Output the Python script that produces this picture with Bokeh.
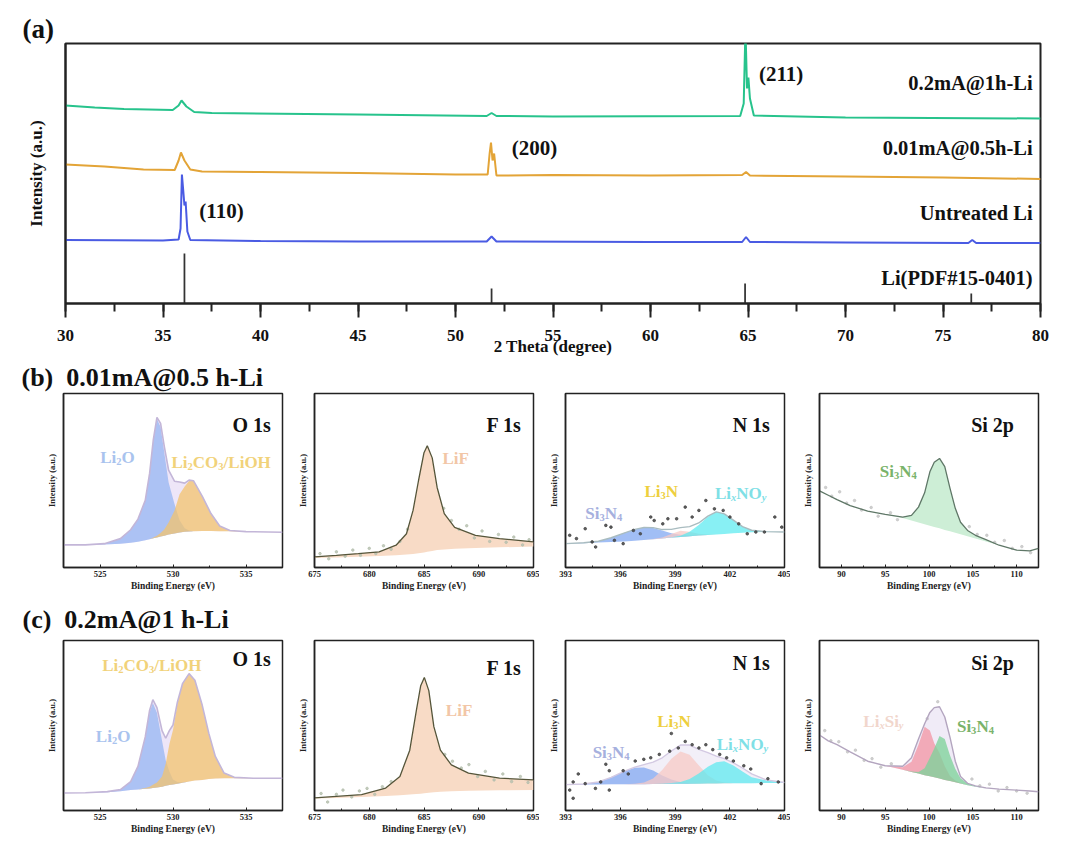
import numpy as np
from bokeh.plotting import figure
from bokeh.layouts import column, row
from bokeh.models import SingleIntervalTicker, FixedTicker, Range1d
from bokeh.core.properties import value
from bokeh.embed import file_html
from bokeh.resources import INLINE

SERIF = "Liberation Serif"

# ---------------- (a) XRD data (intensity in arbitrary offset units) ----------------
green_x = [30, 31.5, 33, 35.5, 35.8, 35.95, 36.2, 36.6, 37.5, 45, 51.6, 51.85, 52.1, 55,
           64.6, 64.78, 64.87, 64.95, 65.02, 65.1, 65.3, 70, 80]
green_y = [198, 196, 194.5, 193.5, 198, 203, 197, 191.5, 190.5, 189, 187.5, 190.5, 187.5, 187,
           187.5, 200, 275, 215, 226, 205, 188, 186, 185]
orange_x = [30, 32, 34, 35.6, 35.8, 35.92, 36.1, 36.4, 37, 40, 45, 50, 51.65, 51.75, 51.82,
            51.9, 51.98, 52.1, 55, 60, 64.7, 64.9, 65.1, 70, 75, 80]
orange_y = [139, 137, 134, 133.5, 143, 151, 143, 134, 132, 131.5, 130.5, 129, 129, 150, 161,
            143, 150, 128, 128.5, 128, 128.5, 131.5, 128, 127, 126, 124.5]
blue_x = [30, 35, 35.8, 35.9, 35.97, 36.03, 36.1, 36.16, 36.25, 36.4, 40, 45, 51.6, 51.85,
          52.1, 60, 64.7, 64.9, 65.1, 70, 76.3, 76.5, 76.7, 80]
blue_y = [63.5, 63, 64, 75, 129, 115, 98, 102, 72, 63.5, 62.5, 62, 62, 67, 62, 61.5, 61.5,
          66.5, 61.5, 61, 60.5, 63.5, 60.5, 60.5]
pdf_pos = [36.1, 51.85, 64.85, 76.45]
pdf_int = [50, 15, 20, 10]
series_names = ["0.2mA@1h-Li", "0.01mA@0.5h-Li", "Untreated Li", "Li(PDF#15-0401)"]
peak_names = ["(110)", "(200)", "(211)"]

# ---------------- (b)/(c) XPS data (normalised intensity) ----------------
o1s_b_x = [522.5, 524.0, 525.3, 526.4, 527.1, 527.6, 528.1, 528.4, 528.65, 528.9, 529.15, 529.4,
           529.7, 530.1, 530.45, 530.8, 531.1, 531.4, 532.0, 532.6, 533.2, 533.9, 535.0, 537.5]
o1s_b_bg = [13.0, 13.0, 13.2, 13.6, 14.2, 14.8, 15.6, 16.2, 16.8, 17.3, 17.8, 18.3, 18.9, 19.6,
            20.1, 20.5, 20.7, 20.9, 21.0, 21.0, 20.9, 20.8, 20.6, 20.3]
o1s_b_li2o = [0, 0, 0.5, 3, 7.5, 13, 23, 38, 56, 68, 63, 48, 30, 17, 7, 2, 0.5, 0, 0, 0, 0, 0, 0, 0]
o1s_b_co3 = [0, 0, 0, 0, 0, 0, 0, 0, 0.5, 1, 2, 3.5, 7, 13, 22, 26, 29, 29, 20, 10, 3, 0.5, 0, 0]

o1s_c_x = [522.5, 524.0, 525.5, 526.4, 527.1, 527.6, 528.1, 528.4, 528.62, 528.9, 529.25, 529.5,
           529.75, 530.0, 530.3, 530.65, 531.1, 531.5, 532.0, 532.45, 532.9, 533.5, 534.2, 535.5, 537.5]
o1s_c_bg = [10.3, 10.4, 10.8, 11.3, 12.0, 12.4, 12.8, 13.0, 13.2, 13.5, 14.0, 14.5, 15.0, 15.3,
            15.7, 16.3, 17.0, 17.6, 18.0, 18.5, 18.8, 19.0, 19.0, 19.0, 19.0]
o1s_c_li2o = [0, 0, 0.3, 1, 5, 13.5, 30, 45, 50, 44, 27, 15, 8, 3, 1, 0.3, 0, 0, 0, 0, 0, 0, 0, 0, 0]
o1s_c_co3 = [0, 0, 0, 0, 0, 0, 0.5, 1, 2, 3, 6, 13, 24, 32, 47, 58, 63.5, 59, 44, 27, 13, 3, 0.5, 0, 0]

f1s_b_x = [675, 677, 679, 680.9, 682.45, 683.4, 684.0, 684.5, 685.0, 685.3, 685.75, 686.2, 686.85,
           687.8, 689.7, 691.9, 695]
f1s_b_env = [6.1, 7.0, 8.0, 9.0, 12.8, 19.4, 32.8, 50, 66, 70, 63, 46, 31, 23, 18.5, 16.6, 14.7]
f1s_b_bg = [5.5, 5.8, 6.2, 6.6, 7.0, 7.4, 7.8, 8.2, 8.6, 9.0, 9.5, 10.0, 10.4, 10.8, 11.2, 11.6, 12.0]
f1s_b_dx = [675.5, 676.3, 677.0, 677.8, 678.5, 679.2, 680.0, 680.6, 681.3, 682.0, 682.8, 683.5,
            686.8, 687.5, 688.2, 688.9, 689.6, 690.3, 691.0, 691.8, 692.5, 693.2, 694.0, 694.6]
f1s_b_dy = [8, 5, 9, 6.5, 10, 7, 11, 8, 12.5, 10.5, 15, 22, 34, 27, 22, 24, 17, 21, 15, 19,
            14.5, 17.5, 13, 16]

f1s_c_x = [675, 677, 679.3, 681.5, 682.8, 683.7, 684.3, 684.7, 685.03, 685.44, 685.9, 686.5,
           687.5, 689.06, 691.9, 695]
f1s_c_env = [7.4, 8.3, 9.3, 13.2, 20, 35.5, 58.8, 73.4, 78.3, 70.5, 49.3, 35.5, 26.8, 22, 19, 18]
f1s_c_bg = [7.0, 7.4, 8.0, 8.6, 9.0, 9.4, 9.7, 9.9, 10.1, 10.4, 10.7, 11.0, 11.3, 11.6, 11.9, 12.1]
f1s_c_dx = [675.6, 676.2, 677.0, 677.6, 678.4, 679.1, 679.8, 680.5, 681.2, 682.0, 686.9, 687.6,
            688.4, 689.1, 689.9, 690.6, 691.4, 692.2, 693.0, 693.8, 694.5]
f1s_c_dy = [10, 5, 9.5, 12, 8, 11.5, 13, 9.5, 14, 17, 33, 29, 25, 27, 20, 23, 18, 21.5, 17, 20, 16.5]

n1s_x = [393, 394, 394.8, 395.5, 396.2, 396.8, 397.3, 397.8, 398.3, 398.8, 399.3, 399.8, 400.3,
         400.8, 401.26, 401.7, 402.2, 402.7, 403.2, 404, 405]
n1s_b_bg = [13.7, 14.0, 14.3, 14.6, 15.0, 15.4, 15.8, 16.2, 16.7, 17.2, 17.6, 18.0, 18.4, 18.7,
            19.0, 19.3, 19.7, 20.0, 20.2, 20.4, 20.4]
n1s_b_si3n4 = [0, 0.2, 0.8, 2.5, 4.8, 6.5, 7.2, 6.5, 4.5, 2.5, 1.2, 0.5, 0.2, 0, 0, 0, 0, 0, 0, 0, 0]
n1s_b_li3n = [0, 0, 0, 0, 0, 0, 0, 0.2, 0.6, 2.0, 3.5, 2.5, 1.0, 0.3, 0, 0, 0, 0, 0, 0, 0]
n1s_b_lixnoy = [0, 0, 0, 0, 0, 0, 0, 0, 0, 0.2, 0.6, 2.5, 6, 10.5, 13, 11.5, 7.5, 3.5, 1.2, 0.2, 0]
n1s_b_dx = [393.23, 393.6, 394.08, 394.46, 394.65, 395.21, 395.49, 395.68, 396.16, 396.72, 397.1,
            397.67, 397.86, 398.33, 398.61, 399.09, 399.56, 399.94, 400.31, 400.69, 401.16,
            401.64, 402.01, 402.49, 402.96, 403.43, 403.9, 404.47, 404.85]
n1s_b_dy = [18.5, 16.6, 22.3, 14.7, 11.8, 24.2, 23.2, 15.6, 13.7, 21.3, 19.4, 29, 27, 25.1, 28,
            28, 34.7, 29, 32.8, 38.5, 33.7, 32.8, 29, 25.1, 19.4, 20.4, 20.4, 29, 23.2]

n1s_c_bg = [15.2, 15.3, 15.3, 15.4, 15.4, 15.5, 15.5, 15.6, 15.6, 15.7, 15.7, 15.8, 15.8, 15.9,
            15.9, 16.0, 16.0, 16.1, 16.1, 16.2, 16.2]
n1s_c_si3n4 = [0, 0.3, 1.5, 4, 7.5, 9.6, 9.8, 8, 5, 2.5, 1, 0.3, 0, 0, 0, 0, 0, 0, 0, 0, 0]
n1s_c_li3n = [0, 0, 0, 0, 0, 0.2, 0.9, 3.2, 8.2, 14.8, 19, 17, 10.8, 4.9, 1.7, 0.5, 0.1, 0, 0, 0, 0]
n1s_c_lixnoy = [0, 0, 0, 0, 0, 0, 0, 0, 0.2, 0.5, 1, 2.8, 6, 9.8, 12.5, 12.9, 10.5, 6.8, 3.4, 1.5, 0.3]
n1s_c_env = [15.2, 15.6, 16.8, 19.5, 23, 25.5, 27, 28.5, 31, 35, 38.5, 38.5, 36, 34, 32, 30.5,
             28, 25, 21.5, 18, 16.5]
n1s_c_dx = [393.23, 393.42, 393.7, 394.08, 394.64, 394.93, 395.4, 395.21, 396.16, 396.44, 396.82,
            397.29, 397.67, 398.14, 398.71, 398.8, 399.18, 399.56, 399.94, 400.31, 400.69, 401.07,
            401.45, 401.83, 402.2, 402.77, 403.15, 403.72, 404.09, 404.66, 393.42, 395.4]
n1s_c_dy = [12, 16.8, 21.5, 15.8, 13, 16.8, 12, 27.2, 23.4, 21.5, 29.1, 30.1, 31, 33, 34.9, 45.3,
            36.8, 40.6, 38.7, 36.8, 38.7, 35.8, 33, 31, 29.1, 26.3, 24.4, 15.8, 18.7, 16.8, 7.2, 23.4]

si2p_x = [87.5, 88.5, 89.5, 91, 93, 95, 97, 98, 98.8, 99.5, 100.1, 100.6, 101.2, 101.8, 102.4,
          103, 103.6, 104.4, 105.3, 106.5, 108, 110, 111.5, 112.5]
si2p_b_bg = [44, 41.5, 39, 35.6, 32.4, 30.5, 28.4, 27, 25.9, 24.9, 24, 23.3, 22.5, 21.6, 20.8,
             19.9, 19.1, 18, 16.7, 15, 12.8, 10, 9.6, 11]
si2p_b_si3n4 = [0, 0, 0, 0, 0, 0, 0.6, 3, 8.8, 18, 31, 37.2, 40.2, 36.4, 24.7, 14.1, 6.9, 3.3,
                1.8, 1.0, 0, 0, 0, 0]
si2p_b_dx = [88.2, 88.9, 89.8, 90.6, 91.5, 92.3, 93.4, 94.2, 95.6, 96.4, 104.6, 105.5, 106.6,
             107.5, 108.6, 109.5, 110.6, 111.6]
si2p_b_dy = [46, 41, 43.5, 37, 38.5, 33, 34.5, 29.5, 31.5, 27.5, 23.5, 19, 18.5, 14.5, 15.5, 11,
             12, 8.5]
si2p_c_bg = [44.4, 41, 38.7, 34.5, 29, 26.3, 23.9, 22.7, 21.7, 20.8, 20.1, 19.5, 18.8, 18, 17.3,
             16.6, 15.9, 14.9, 14, 13, 12.5, 12, 11.5, 11]
si2p_c_env = [44.4, 41, 38.7, 34.5, 29, 26.3, 26, 31, 42, 51, 57.7, 60.5, 61, 55, 43, 29, 20, 16,
              14.5, 13.3, 12.6, 12, 11.5, 11]
si2p_c_lixsiy = [0, 0, 0, 0, 0, 0, 1.5, 6, 17, 28.5, 27, 20, 15, 8, 3, 1, 0.3, 0, 0, 0, 0, 0, 0, 0]
si2p_c_si3n4 = [0, 0, 0, 0, 0, 0, 0, 0.3, 1, 4, 11, 17, 25, 24, 15, 8, 3, 1, 0.3, 0, 0, 0, 0, 0]
si2p_c_dx = [88.1, 88.8, 89.7, 90.7, 91.6, 92.6, 93.5, 94.5, 95.7, 104.9, 105.8, 106.9, 107.9,
             108.9, 110.0, 111.2, 101.0, 99.8]
si2p_c_dy = [47, 41, 40.5, 34.5, 35.5, 29.5, 30.5, 25.5, 27.5, 18.5, 14.5, 15.5, 11.5, 13.5,
             11.5, 10.2, 64, 54]

# ---------------- helpers ----------------
CW = {'L': .667, 'i': .278, 'O': .778, 'C': .722, '/': .278, 'H': .778, 'F': .611, 'S': .556,
      'N': .722, 'x': .5, 'y': .444}


def tw(t, fs):
    return sum(CW.get(c, .5) for c in t) * fs


def rich(p, x, y, parts, color, size=17):
    sub = 0.62
    total = sum(tw(t, size * sub if s else size) for t, s in parts)
    off = -total / 2.0
    for t, s in parts:
        fs = size * sub if s else size
        ital = s and t in ("x", "y")
        p.text(x=[x], y=[y], text=[t], x_offset=off,
               y_offset=0.36 * size + (0.24 * size if s else 0),
               text_font=value(SERIF), text_font_style="bold italic" if ital else "bold",
               text_font_size=f"{fs:.1f}px", text_color=color,
               text_align="left", text_baseline="alphabetic")
        off += tw(t, fs)


def name_label(p, x, y, t):
    p.text(x=[x], y=[y], text=[t], text_font=value(SERIF), text_font_style="bold",
           text_font_size="20px", text_color="#111111", text_align="right",
           text_baseline="middle")


LI2O = [("Li", False), ("2", True), ("O", False)]
CO3 = [("Li", False), ("2", True), ("CO", False), ("3", True), ("/LiOH", False)]
SI3N4 = [("Si", False), ("3", True), ("N", False), ("4", True)]
LI3N = [("Li", False), ("3", True), ("N", False)]
LIXNOY = [("Li", False), ("x", True), ("NO", False), ("y", True)]
LIXSIY = [("Li", False), ("x", True), ("Si", False), ("y", True)]

COLS = [(288, 63, 6), (251, 26, 6), (251, 26, 6), (254, 29, 6)]
ROWS = {"b": (238, 35, 29), "c": (240, 44, 25)}


def xps_fig(col, rowkey, xr, interval, title=None, offset=0, standoff=0):
    w, mbl, mbr = COLS[col]
    h, mbt, mbb = ROWS[rowkey]
    p = figure(width=w, height=h, x_range=Range1d(*xr), y_range=Range1d(0, 100),
               output_backend="svg", toolbar_location=None,
               min_border_left=mbl, min_border_right=mbr, min_border_top=mbt,
               min_border_bottom=mbb)
    if title:
        p.title.text = title
        p.title.align = "left"
        p.title.offset = offset
        p.title.standoff = standoff
        p.title.text_font = SERIF
        p.title.text_font_size = "26px"
        p.title.text_font_style = "bold"
        p.title.text_color = "#111111"
    p.grid.visible = False
    p.outline_line_color = "#222222"
    p.outline_line_width = 1.5
    xa = p.xaxis[0]
    xa.ticker = SingleIntervalTicker(interval=interval, num_minor_ticks=2)
    xa.major_tick_in = 3
    xa.major_tick_out = 0
    xa.minor_tick_in = 2
    xa.minor_tick_out = 0
    xa.axis_line_width = 1.5
    xa.axis_line_color = "#222222"
    xa.major_tick_line_color = "#222222"
    xa.minor_tick_line_color = "#222222"
    xa.major_label_standoff = 3
    xa.major_label_text_font = SERIF
    xa.major_label_text_font_style = "bold"
    xa.major_label_text_font_size = "8.5px"
    xa.major_label_text_color = "#222222"
    xa.axis_label = "Binding Energy (eV)"
    xa.axis_label_text_font = SERIF
    xa.axis_label_text_font_style = "bold"
    xa.axis_label_text_font_size = "9.5px"
    xa.axis_label_text_color = "#222222"
    xa.axis_label_standoff = 1
    ya = p.yaxis[0]
    ya.ticker = FixedTicker(ticks=[])
    ya.major_tick_line_color = None
    ya.minor_tick_line_color = None
    ya.axis_line_width = 1.5
    ya.axis_line_color = "#222222"
    ya.axis_label = "Intensity (a.u.)"
    ya.axis_label_text_font = SERIF
    ya.axis_label_text_font_style = "bold"
    ya.axis_label_text_font_size = "8.5px"
    ya.axis_label_text_color = "#222222"
    ya.axis_label_standoff = 7
    return p


def fill(p, x, lo, hi, color, alpha):
    p.varea(x=x, y1=lo, y2=hi, fill_color=color, fill_alpha=alpha)


# ---------------- (a) XRD ----------------
pa = figure(width=1072, height=358, x_range=Range1d(30, 80), y_range=Range1d(0, 260),
            output_backend="svg", toolbar_location=None, title="(a)",
            min_border_left=65, min_border_right=32, min_border_top=43, min_border_bottom=55)
pa.title.align = "left"
pa.title.offset = -43
pa.title.standoff = 0
pa.title.text_font = SERIF
pa.title.text_font_size = "27px"
pa.title.text_font_style = "bold"
pa.title.text_color = "#111111"
pa.grid.visible = False
pa.outline_line_color = "#222222"
pa.outline_line_width = 2
xa = pa.xaxis[0]
xa.ticker = SingleIntervalTicker(interval=5, num_minor_ticks=2)
xa.major_tick_in = 0
xa.major_tick_out = 14
xa.minor_tick_in = 0
xa.minor_tick_out = 8
xa.axis_line_width = 2
xa.major_tick_line_width = 2
xa.minor_tick_line_width = 2
xa.axis_line_color = "#222222"
xa.major_tick_line_color = "#222222"
xa.minor_tick_line_color = "#222222"
xa.major_label_standoff = 12
xa.major_label_text_font = SERIF
xa.major_label_text_font_style = "bold"
xa.major_label_text_font_size = "17px"
xa.major_label_text_color = "#111111"
xa.axis_label = "2 Theta (degree)"
xa.axis_label_text_font = SERIF
xa.axis_label_text_font_style = "bold"
xa.axis_label_text_font_size = "17px"
xa.axis_label_text_color = "#111111"
xa.axis_label_standoff = -7
ya = pa.yaxis[0]
ya.ticker = FixedTicker(ticks=[])
ya.major_tick_line_color = None
ya.minor_tick_line_color = None
ya.axis_line_width = 2
ya.axis_line_color = "#222222"
ya.axis_label = "Intensity (a.u.)"
ya.axis_label_text_font = SERIF
ya.axis_label_text_font_style = "bold"
ya.axis_label_text_font_size = "17px"
ya.axis_label_text_color = "#111111"
ya.axis_label_standoff = 20

pa.vbar(x=pdf_pos, top=pdf_int, bottom=0, width=0.09, fill_color="#333333", line_color=None)
pa.line(blue_x, blue_y, line_color="#4a5be3", line_width=2)
pa.line(orange_x, orange_y, line_color="#e3a437", line_width=2)
pa.line(green_x, green_y, line_color="#27c38c", line_width=2)
pa.text(x=[79.6] * 4, y=[221, 156, 91, 26], text=series_names, text_align="right",
        text_baseline="middle", text_font=value(SERIF), text_font_style="bold",
        text_font_size="20.5px", text_color="#111111")
pa.text(x=[38.0, 54.05, 66.7], y=[92.7, 156, 230], text=peak_names, text_align="center",
        text_baseline="middle", text_font=value(SERIF), text_font_style="bold",
        text_font_size="21px", text_color="#111111")


# ---------------- XPS panels ----------------
def o1s_panel(rowkey, x, bg, li2o, co3, lab, title, offset, standoff):
    p = xps_fig(0, rowkey, (522.5, 537.5), 5, title, offset, standoff)
    bg = np.array(bg)
    a = bg + np.array(li2o)
    b = bg + np.array(co3)
    env = bg + np.array(li2o) + np.array(co3)
    fill(p, x, bg, env, "#ece3f7", 0.9)
    fill(p, x, bg, a, "#9ab7f2", 0.78)
    fill(p, x, bg, b, "#f3c36e", 0.75)
    p.line(x, env, line_color="#c3b6d8", line_width=1.6)
    for parts, pos, col in lab:
        rich(p, pos[0], pos[1], parts, col)
    return p


def f1s_panel(rowkey, x, env, bg, dx, dy, lab_pos):
    p = xps_fig(1, rowkey, (675, 695), 5)
    fill(p, x, bg, env, "#f8dbc6", 1.0)
    p.scatter(dx, dy, size=2.5, color="#b5bfae", alpha=0.8)
    p.line(x, env, line_color="#55553a", line_width=1.3)
    rich(p, lab_pos[0], lab_pos[1], [("LiF", False)], "#f2c6a6")
    return p


def n1s_panel(rowkey, bg, comps, env, dx, dy, envcol, envfill, lab):
    p = xps_fig(2, rowkey, (393, 405), 3)
    bg = np.array(bg)
    if env is None:
        env = bg + sum(np.array(c) for c, _, _ in comps)
    if envfill:
        fill(p, n1s_x, bg, env, envfill, 0.9)
    for c, col, al in comps:
        fill(p, n1s_x, bg, bg + np.array(c), col, al)
    p.line(n1s_x, env, line_color=envcol, line_width=1.4)
    p.scatter(dx, dy, size=2.6, color="#444444", alpha=0.85)
    for parts, pos, col in lab:
        rich(p, pos[0], pos[1], parts, col)
    return p


# row (b)
b1 = o1s_panel("b", o1s_b_x, o1s_b_bg, o1s_b_li2o, o1s_b_co3,
               [(LI2O, (526.2, 67), "#a9c3ee"), (CO3, (533.3, 64), "#f1d27a")],
               "(b)\u00a0\u00a00.01mA@0.5 h-Li", -42, 4)
name_label(b1, 536.7, 82, "O 1s")

b2 = f1s_panel("b", f1s_b_x, f1s_b_env, f1s_b_bg, f1s_b_dx, f1s_b_dy, (687.9, 66))
name_label(b2, 693.9, 82, "F 1s")

b3 = n1s_panel("b", n1s_b_bg,
               [(n1s_b_si3n4, "#82a8f2", 0.75), (n1s_b_li3n, "#f7c9c6", 0.75),
                (n1s_b_lixnoy, "#55e9ef", 0.7)],
               None, n1s_b_dx, n1s_b_dy, "#a9bcc0", None,
               [(SI3N4, (395.1, 34.7), "#a6b0de"), (LI3N, (398.25, 47), "#eecf3e"),
                (LIXNOY, (402.6, 46), "#7fe0e6")])
name_label(b3, 404.2, 82, "N 1s")

b4 = xps_fig(3, "b", (87.5, 112.5), 5)
b4_top = np.array(si2p_b_bg) + np.array(si2p_b_si3n4)
fill(b4, si2p_x, si2p_b_bg, b4_top, "#cdeed6", 1.0)
b4.scatter(si2p_b_dx, si2p_b_dy, size=2.5, color="#c4c4c4", alpha=0.8)
b4.line(si2p_x, b4_top, line_color="#5f7767", line_width=1.3)
rich(b4, 96.5, 58.5, SI3N4, "#7ab36a")
name_label(b4, 109.7, 82, "Si 2p")

# row (c)
c1 = o1s_panel("c", o1s_c_x, o1s_c_bg, o1s_c_li2o, o1s_c_co3,
               [(CO3, (528.55, 89), "#f1d27a"), (LI2O, (525.9, 47), "#a9c3ee")],
               "(c)\u00a0\u00a00.2mA@1 h-Li", -41, 13)
name_label(c1, 536.7, 89, "O 1s")

c2 = f1s_panel("c", f1s_c_x, f1s_c_env, f1s_c_bg, f1s_c_dx, f1s_c_dy, (688.2, 62.7))
name_label(c2, 693.9, 84, "F 1s")

c3 = n1s_panel("c", n1s_c_bg,
               [(n1s_c_si3n4, "#82a8f2", 0.75), (n1s_c_li3n, "#f7c9c6", 0.75),
                (n1s_c_lixnoy, "#55e9ef", 0.7)],
               n1s_c_env, n1s_c_dx, n1s_c_dy, "#d3c9e2", "#f1edf7",
               [(SI3N4, (395.5, 37.7), "#a6b0de"), (LI3N, (398.95, 55.8), "#eecf3e"),
                (LIXNOY, (402.7, 42.5), "#7fe0e6")])
name_label(c3, 404.2, 87, "N 1s")

c4 = xps_fig(3, "c", (87.5, 112.5), 5)
bgc = np.array(si2p_c_bg)
fill(c4, si2p_x, bgc, si2p_c_env, "#f0ebf7", 1.0)
fill(c4, si2p_x, bgc, bgc + np.array(si2p_c_lixsiy), "#f297a6", 0.78)
fill(c4, si2p_x, bgc, bgc + np.array(si2p_c_si3n4), "#7fd29b", 0.78)
c4.scatter(si2p_c_dx, si2p_c_dy, size=2.5, color="#c4c4c4", alpha=0.8)
c4.line(si2p_x, si2p_c_env, line_color="#b3a5bf", line_width=1.4)
rich(c4, 94.8, 55.8, LIXSIY, "#f1d6cc")
rich(c4, 105.3, 53, SI3N4, "#7ab36a")
name_label(c4, 109.7, 87, "Si 2p")

layout = column(pa, row(b1, b2, b3, b4), row(c1, c2, c3, c4))
open("out.html", "w").write(file_html(layout, INLINE, title="XRD and XPS"))
